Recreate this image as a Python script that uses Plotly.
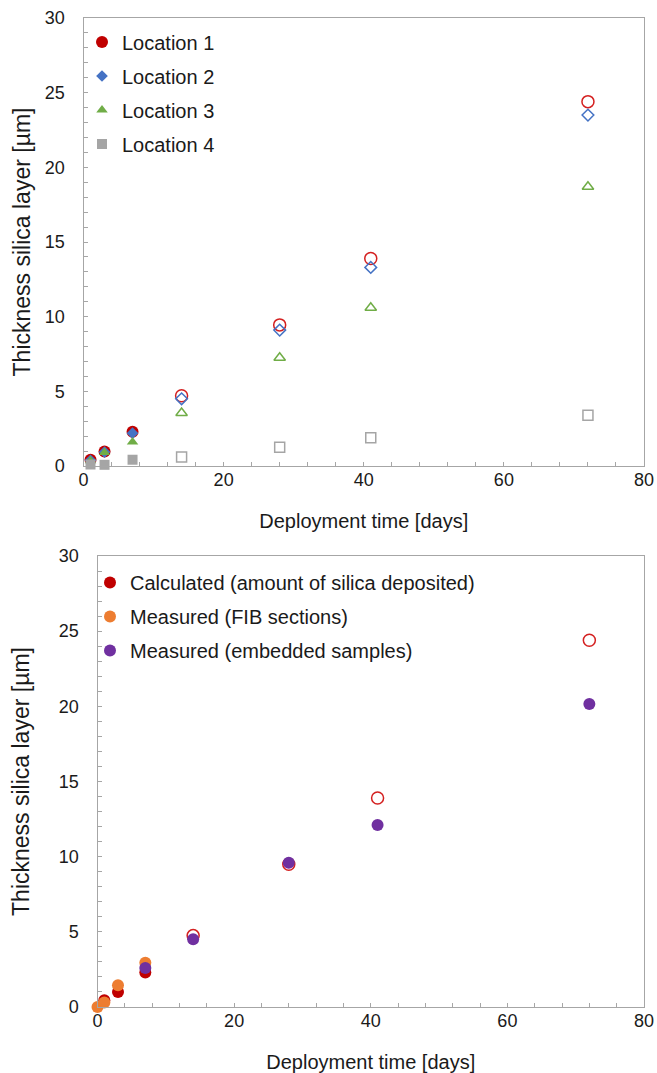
import plotly.graph_objects as go

# ---------------- data ----------------
days = [1, 3, 7, 14, 28, 41, 72]
loc1 = [0.42, 0.97, 2.3, 4.7, 9.45, 13.9, 24.4]
loc2 = [0.38, 0.93, 2.2, 4.5, 9.1, 13.3, 23.5]
loc3 = [0.35, 0.9, 1.6, 3.55, 7.25, 10.6, 18.7]
loc4 = [0.1, 0.08, 0.42, 0.6, 1.25, 1.9, 3.4]
loc_names = ["Location 1", "Location 2", "Location 3", "Location 4"]

calc_days = [1, 3, 7, 14, 28, 41, 72]
calc_vals = [0.45, 1.0, 2.3, 4.75, 9.5, 13.9, 24.4]
fib_days = [0, 1, 3, 7]
fib_vals = [0.0, 0.3, 1.45, 2.95]
emb_days = [7, 14, 28, 41, 72]
emb_vals = [2.6, 4.5, 9.6, 12.1, 20.15]
bottom_names = ["Calculated (amount of silica deposited)",
                "Measured (FIB sections)",
                "Measured (embedded samples)"]

n_filled = 3  # first three deployment times drawn with filled markers

# ---------------- styles ----------------
FONT = "Liberation Sans, Arial, sans-serif"
TXT = "#1a1a1a"
AX = "#a6a6a6"

fig = go.Figure()

top_styles = [
    dict(fill="circle", open="circle-open", size=12, color="#C00000", ocolor="#d42020"),
    dict(fill="diamond", open="diamond-open", size=9, color="#4472C4", ocolor="#4472C4"),
    dict(fill="triangle-up", open="triangle-up-open", size=10, color="#70AD47", ocolor="#70AD47"),
    dict(fill="square", open="square-open", size=10, color="#A5A5A5", ocolor="#A5A5A5"),
]
for name, vals, st in zip(loc_names, [loc1, loc2, loc3, loc4], top_styles):
    fig.add_trace(go.Scatter(
        x=days[:n_filled], y=vals[:n_filled], mode="markers", name=name,
        legendgroup=name, legend="legend",
        marker=dict(symbol=st["fill"], size=st["size"], color=st["color"], line=dict(width=0)),
        xaxis="x", yaxis="y", cliponaxis=False))
    fig.add_trace(go.Scatter(
        x=days[n_filled:], y=vals[n_filled:], mode="markers", name=name,
        legendgroup=name, showlegend=False,
        marker=dict(symbol=st["open"], size=st["size"], color=st["ocolor"],
                    line=dict(width=1.5, color=st["ocolor"])),
        xaxis="x", yaxis="y", cliponaxis=False))

# bottom chart
fig.add_trace(go.Scatter(
    x=calc_days[:n_filled], y=calc_vals[:n_filled], mode="markers", name=bottom_names[0],
    legendgroup="c", legend="legend2",
    marker=dict(symbol="circle", size=12, color="#C00000", line=dict(width=0)),
    xaxis="x2", yaxis="y2", cliponaxis=False))
fig.add_trace(go.Scatter(
    x=calc_days[n_filled:], y=calc_vals[n_filled:], mode="markers", name=bottom_names[0],
    legendgroup="c", showlegend=False, legend="legend2",
    marker=dict(symbol="circle-open", size=12, color="#d42020", line=dict(width=1.5, color="#d42020")),
    xaxis="x2", yaxis="y2", cliponaxis=False))
fig.add_trace(go.Scatter(
    x=fib_days, y=fib_vals, mode="markers", name=bottom_names[1],
    legendgroup="f", legend="legend2",
    marker=dict(symbol="circle", size=12, color="#ED7D31", line=dict(width=0)),
    xaxis="x2", yaxis="y2", cliponaxis=False))
fig.add_trace(go.Scatter(
    x=emb_days, y=emb_vals, mode="markers", name=bottom_names[2],
    legendgroup="e", legend="legend2",
    marker=dict(symbol="circle", size=12, color="#7030A0", line=dict(width=0)),
    xaxis="x2", yaxis="y2", cliponaxis=False))

W, H = 657, 1073


def xdom(l, r):
    return [l / W, r / W]


def ydom(top, bottom):
    return [(H - bottom) / H, (H - top) / H]


def xaxis_cfg(dom, anchor):
    return dict(domain=dom, anchor=anchor, range=[0, 80], dtick=20, tick0=0,
                automargin=False,
                ticks="inside", ticklen=4, tickcolor=AX, tickwidth=1,
                showline=True, linecolor=AX, linewidth=1.3, mirror=True,
                showgrid=False, zeroline=False,
                minor=dict(dtick=4, tick0=0, ticks="inside", ticklen=4, tickcolor=AX, showgrid=False),
                tickfont=dict(size=18, color=TXT, family=FONT),
                ticklabelstandoff=-3,
                title=dict(text="Deployment time [days]", font=dict(size=20, color=TXT, family=FONT),
                           standoff=25))


def yaxis_cfg(dom, anchor, standoff, lstand):
    return dict(domain=dom, anchor=anchor, range=[0, 30], dtick=5, tick0=0,
                automargin=False,
                ticks="inside", ticklen=4, tickcolor=AX, tickwidth=1,
                showline=True, linecolor=AX, linewidth=1.3, mirror=True,
                showgrid=False, zeroline=False,
                minor=dict(dtick=1, tick0=0, ticks="inside", ticklen=4, tickcolor=AX, showgrid=False),
                tickfont=dict(size=18, color=TXT, family=FONT),
                ticklabelstandoff=lstand,
                title=dict(text="Thickness silica layer [µm]", font=dict(size=23, color=TXT, family=FONT),
                           standoff=standoff))


leg_common = dict(bgcolor="rgba(0,0,0,0)", borderwidth=0, xanchor="left", yanchor="top",
                  font=dict(size=20, color=TXT, family=FONT), tracegroupgap=5,
                  itemsizing="trace")

fig.update_layout(
    template="none",
    width=W, height=H,
    margin=dict(l=0, r=0, t=0, b=0, autoexpand=False),
    paper_bgcolor="white", plot_bgcolor="white",
    font=dict(family=FONT, color=TXT),
    xaxis=xaxis_cfg(xdom(83.5, 644), "y"),
    yaxis=yaxis_cfg(ydom(18, 466), "x", 7, 14),
    xaxis2=xaxis_cfg(xdom(97.5, 644), "y2"),
    yaxis2=yaxis_cfg(ydom(556, 1007), "x2", 22, 14),
    legend=dict(x=82 / W, y=(H - 22.5) / H, **leg_common),
    legend2=dict(x=90 / W, y=(H - 563) / H, **leg_common),
    showlegend=True,
)

fig.write_html("out.html",
               config={"displayModeBar": False},
               post_script="document.body.style.margin='0';document.body.style.overflow='hidden';")
